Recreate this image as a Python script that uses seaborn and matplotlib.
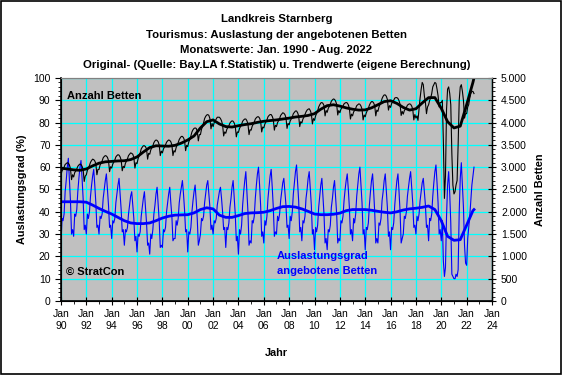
import matplotlib
matplotlib.use("Agg")
import matplotlib.pyplot as plt
import matplotlib.dates as mdates
import matplotlib.ticker as mticker
from matplotlib.patches import Rectangle
import pandas as pd
import seaborn as sns

# Auslastungsgrad (%), monthly Jan 1990 - Aug 2022
auslastung = [
    26, 37, 36, 39, 49, 54, 60, 64, 54, 45, 30, 32,
    29, 39, 38, 41, 49, 55, 60, 63, 55, 46, 32, 34,
    30, 39, 37, 40, 47, 52, 56, 59, 52, 44, 33, 34,
    30, 38, 37, 39, 46, 50, 54, 57, 50, 43, 33, 34,
    28, 36, 35, 37, 44, 48, 52, 55, 48, 41, 31, 32,
    25, 32, 31, 33, 39, 43, 47, 49, 43, 37, 27, 29,
    22, 30, 29, 31, 38, 42, 46, 49, 42, 35, 25, 26,
    21, 30, 28, 32, 39, 43, 48, 51, 43, 36, 24, 25,
    24, 32, 31, 33, 40, 44, 48, 51, 44, 38, 27, 28,
    28, 36, 34, 37, 44, 48, 51, 54, 48, 41, 31, 32,
    22, 31, 30, 33, 40, 45, 49, 52, 45, 37, 25, 27,
    30, 37, 36, 38, 44, 48, 52, 54, 48, 42, 32, 34,
    30, 36, 35, 37, 43, 46, 49, 51, 46, 40, 32, 33,
    24, 33, 32, 35, 42, 46, 51, 54, 46, 39, 27, 29,
    21, 32, 30, 34, 43, 49, 54, 58, 49, 40, 25, 27,
    26, 36, 35, 38, 46, 52, 57, 60, 52, 43, 29, 31,
    26, 36, 34, 38, 46, 51, 56, 59, 51, 42, 29, 31,
    30, 38, 36, 39, 45, 49, 53, 55, 49, 43, 33, 34,
    28, 38, 36, 40, 48, 53, 58, 61, 53, 45, 31, 33,
    27, 36, 35, 38, 46, 50, 55, 58, 50, 43, 30, 32,
    23, 33, 31, 34, 42, 47, 52, 55, 47, 39, 26, 28,
    23, 32, 31, 34, 42, 46, 51, 54, 46, 39, 26, 28,
    27, 36, 35, 38, 45, 50, 54, 57, 50, 42, 30, 32,
    27, 37, 35, 39, 47, 52, 57, 60, 52, 44, 30, 32,
    23, 33, 32, 35, 43, 49, 54, 57, 49, 40, 26, 28,
    26, 35, 34, 37, 45, 49, 54, 57, 49, 42, 29, 31,
    23, 33, 32, 35, 43, 49, 54, 57, 49, 40, 26, 28,
    30, 38, 37, 40, 47, 51, 55, 58, 51, 44, 33, 34,
    30, 38, 36, 39, 45, 49, 53, 55, 49, 43, 33, 34,
    27, 37, 36, 39, 47, 53, 58, 61, 53, 44, 30, 32,
    27, 36, 18, 11, 15, 38, 52, 58, 48, 35, 12, 11,
    10, 10, 12, 11, 14, 40, 55, 62, 52, 42, 25, 17,
    16, 28, 33, 38, 45, 52, 56, 60,
]

# angebotene Betten, monthly Jan 1990 - Aug 2022
betten = [
    2830, 2920, 2950, 3000, 3060, 3080, 3100, 3090, 3050, 2970, 2720, 2830,
    2780, 2880, 2910, 2960, 3020, 3050, 3070, 3060, 3020, 2950, 2680, 2800,
    2830, 2930, 2980, 3040, 3110, 3150, 3180, 3170, 3140, 3080, 2830, 2950,
    2950, 3050, 3090, 3140, 3210, 3240, 3260, 3250, 3220, 3150, 2900, 3010,
    2980, 3070, 3110, 3160, 3230, 3260, 3280, 3270, 3230, 3160, 2920, 3020,
    2990, 3090, 3130, 3190, 3260, 3290, 3320, 3310, 3290, 3220, 2980, 3100,
    3080, 3190, 3250, 3320, 3410, 3450, 3480, 3480, 3460, 3410, 3180, 3310,
    3290, 3390, 3430, 3480, 3550, 3590, 3610, 3600, 3570, 3500, 3260, 3360,
    3320, 3410, 3450, 3500, 3560, 3590, 3610, 3600, 3570, 3500, 3260, 3370,
    3340, 3440, 3490, 3550, 3620, 3660, 3690, 3690, 3660, 3600, 3370, 3490,
    3460, 3570, 3620, 3700, 3790, 3840, 3870, 3880, 3870, 3810, 3590, 3730,
    3730, 3850, 3910, 3990, 4090, 4140, 4170, 4180, 4160, 4090, 3860, 3980,
    3910, 4000, 4040, 4080, 4120, 4120, 4120, 4090, 4040, 3950, 3700, 3790,
    3760, 3850, 3890, 3930, 3990, 4020, 4040, 4030, 3990, 3920, 3680, 3790,
    3780, 3870, 3910, 3960, 4030, 4060, 4080, 4080, 4040, 3970, 3730, 3840,
    3830, 3920, 3960, 4010, 4080, 4110, 4130, 4130, 4100, 4030, 3790, 3900,
    3880, 3970, 4010, 4060, 4130, 4160, 4180, 4180, 4140, 4070, 3830, 3940,
    3910, 4000, 4040, 4090, 4160, 4190, 4220, 4210, 4180, 4110, 3870, 3980,
    3950, 4040, 4080, 4130, 4200, 4230, 4260, 4260, 4220, 4150, 3910, 4020,
    3990, 4080, 4120, 4180, 4240, 4280, 4300, 4310, 4270, 4200, 3970, 4090,
    4050, 4150, 4200, 4260, 4350, 4400, 4440, 4450, 4430, 4380, 4150, 4270,
    4230, 4320, 4360, 4410, 4480, 4510, 4530, 4520, 4480, 4410, 4170, 4270,
    4220, 4300, 4330, 4370, 4420, 4440, 4450, 4440, 4400, 4320, 4080, 4190,
    4150, 4240, 4270, 4320, 4380, 4400, 4420, 4410, 4370, 4300, 4060, 4170,
    4130, 4220, 4270, 4320, 4390, 4440, 4470, 4470, 4440, 4380, 4150, 4280,
    4250, 4350, 4400, 4460, 4540, 4590, 4620, 4620, 4590, 4520, 4280, 4380,
    4340, 4430, 4460, 4500, 4550, 4560, 4560, 4540, 4490, 4410, 4160, 4250,
    4190, 4270, 4300, 4340, 4390, 4410, 4420, 4410, 4370, 4300, 4060, 4180,
    4100, 4150, 4050, 4300, 4550, 4750, 4900, 4850, 4600, 4450, 4200, 4350,
    4400, 4500, 4550, 4650, 4800, 4850, 4900, 4880, 4750, 4600, 4350, 4450,
    4450, 4500, 3600, 2300, 2800, 4300, 4750, 4800, 4650, 4400, 3300, 2600,
    2400, 2450, 2600, 2700, 3500, 4500, 4800, 4850, 4700, 4500, 4100, 4200,
    4200, 4350, 4400, 4550, 4650, 4700, 4700, 4650,
]

# trend values, half-yearly (Jan / Jul) plus Aug 2022
trend_dates = list(pd.date_range("1990-01-01", "2022-07-01", freq="6MS")) + [pd.Timestamp("2022-08-01")]
trend_auslastung = [
    44.5, 44.5, 44.5, 44.5, 44.3, 43.0, 41.5, 40.2, 39.0, 37.5,
    36.0, 35.0, 34.7, 34.7, 35.0, 36.0, 37.2, 38.0, 38.5, 38.6,
    38.7, 39.5, 41.0, 41.8, 41.3, 38.5, 37.5, 37.5, 38.3, 39.2,
    39.5, 39.6, 39.8, 40.5, 41.5, 42.3, 42.4, 42.1, 41.3, 40.2,
    39.0, 38.7, 38.7, 38.9, 39.4, 40.5, 41.0, 41.0, 41.0, 40.7,
    40.2, 39.8, 39.5, 40.0, 40.8, 41.3, 41.6, 42.0, 42.6, 41.0,
    36.0, 29.0, 27.2, 27.5, 34.0, 40.5, 41.0,
]
trend_betten = [
    2980, 2960, 2940, 2930, 2960, 3030, 3090, 3120, 3130, 3140,
    3145, 3170, 3230, 3340, 3440, 3480, 3475, 3470, 3490, 3540,
    3610, 3700, 3880, 4020, 4060, 3970, 3910, 3900, 3930, 3955,
    3975, 4005, 4030, 4045, 4060, 4080, 4100, 4125, 4140, 4160,
    4200, 4300, 4380, 4400, 4370, 4330, 4300, 4280, 4285, 4330,
    4400, 4470, 4490, 4430, 4340, 4280, 4310, 4440, 4560, 4560,
    4320, 4020, 3880, 3920, 4400, 4900, 5000,
]

months = pd.date_range("1990-01-01", periods=len(auslastung), freq="MS")
df = pd.DataFrame({"Monat": months, "Auslastung": auslastung, "Betten": betten})
tr = pd.DataFrame({"Monat": trend_dates, "Auslastung": trend_auslastung, "Betten": trend_betten})

plt.rcParams["font.family"] = ["Liberation Sans", "DejaVu Sans"]
plt.rcParams["font.size"] = 7

fig = plt.figure(figsize=(5.62, 3.76), dpi=100)
ax = fig.add_axes([0.1085, 0.1995, 0.7669, 0.5931])
ax.set_facecolor("#C0C0C0")
ax2 = ax.twinx()
ax.set_zorder(1)
ax2.set_zorder(2)
ax2.patch.set_visible(False)

sns.lineplot(data=df, x="Monat", y="Auslastung", ax=ax, color="#0000FF", lw=0.8)
sns.lineplot(data=tr, x="Monat", y="Auslastung", ax=ax, color="#0000FF", lw=2.0)
sns.lineplot(data=df, x="Monat", y="Betten", ax=ax2, color="black", lw=0.8)
sns.lineplot(data=tr, x="Monat", y="Betten", ax=ax2, color="black", lw=2.0)

x0, x1 = pd.Timestamp("1990-01-01"), pd.Timestamp("2024-01-01")
ax.set_xlim(x0, x1)
ax.set_ylim(0, 100)
ax2.set_ylim(0, 5000)

ax.xaxis.set_major_locator(mdates.YearLocator(2))
ax.xaxis.set_minor_locator(mdates.YearLocator(1))
ax.xaxis.set_major_formatter(mdates.DateFormatter("Jan\n%y"))
ax.yaxis.set_major_locator(mticker.MultipleLocator(10))
ax.yaxis.set_minor_locator(mticker.MultipleLocator(2))
ax2.yaxis.set_major_locator(mticker.MultipleLocator(500))
ax2.yaxis.set_minor_locator(mticker.MultipleLocator(100))
ax2.yaxis.set_major_formatter(mticker.FuncFormatter(lambda v, p: f"{int(v):,}".replace(",", ".")))

ax.grid(True, which="major", color="#00FFFF", lw=0.9)
ax.set_axisbelow(True)
ax.tick_params(axis="both", which="major", length=4, width=0.8, labelsize=7.5, colors="black")
ax.tick_params(axis="x", which="major", direction="inout", length=6, pad=3)
ax.tick_params(axis="both", which="minor", length=2, width=0.6)
ax2.tick_params(axis="y", which="major", direction="inout", length=6, width=0.8, labelsize=7.5)
ax2.tick_params(axis="y", which="minor", length=2, width=0.6)
ax.set_xlabel("")
ax.set_ylabel("")
ax2.set_ylabel("")
for s in ["left", "bottom"]:
    ax.spines[s].set_linewidth(1.2)
ax.spines["top"].set_color("#808080")
ax2.spines["top"].set_color("#808080")
ax2.spines["right"].set_linewidth(1.0)

bold = dict(fontweight="bold")
titles = [
    "Landkreis Starnberg",
    "Tourismus: Auslastung der angebotenen Betten",
    "Monatswerte: Jan. 1990 - Aug. 2022",
    "Original- (Quelle: Bay.LA f.Statistik) u. Trendwerte (eigene Berechnung)",
]
for i, t in enumerate(titles):
    fig.text(0.492, 0.949 - i * 0.041, t, ha="center", va="center", fontsize=8.2, **bold)

fig.text(0.039, 0.496, "Auslastungsgrad (%)", rotation=90, ha="center", va="center", fontsize=7.8, **bold)
fig.text(0.961, 0.496, "Anzahl Betten", rotation=90, ha="center", va="center", fontsize=7.8, **bold)
fig.text(0.492, 0.061, "Jahr", ha="center", va="center", fontsize=7.8, **bold)

fig.text(0.119, 0.745, "Anzahl Betten", ha="left", va="center", fontsize=8, **bold)
fig.text(0.117, 0.277, "© StratCon", ha="left", va="center", fontsize=8, **bold)
fig.text(0.493, 0.319, "Auslastungsgrad", ha="left", va="center", fontsize=8, color="#0000FF", **bold)
fig.text(0.493, 0.279, "angebotene Betten", ha="left", va="center", fontsize=8, color="#0000FF", **bold)

fig.patches.append(Rectangle((0.002, 0.004), 0.996, 0.993, transform=fig.transFigure,
                             fill=False, edgecolor="black", lw=1.2))

fig.savefig("out.png", dpi=100)
